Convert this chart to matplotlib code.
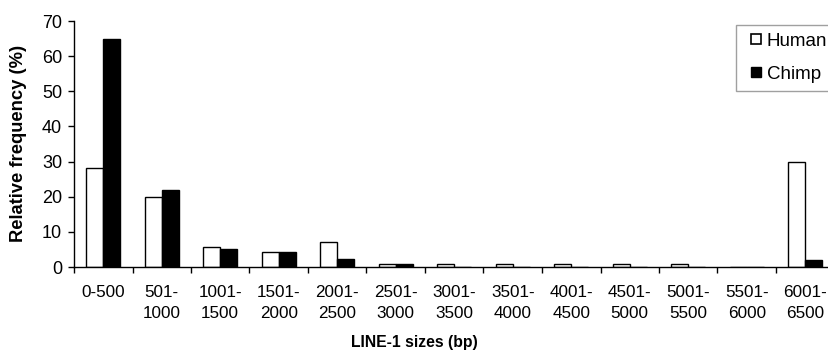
import matplotlib
matplotlib.use("Agg")
import matplotlib.pyplot as plt
from matplotlib.lines import Line2D
import numpy as np

categories = ["0-500", "501-\n1000", "1001-\n1500", "1501-\n2000", "2001-\n2500",
              "2501-\n3000", "3001-\n3500", "3501-\n4000", "4001-\n4500", "4501-\n5000",
              "5001-\n5500", "5501-\n6000", "6001-\n6500"]
human = [28.3, 20.0, 5.8, 4.2, 7.1, 0.8, 0.8, 0.8, 0.8, 0.8, 0.8, 0.0, 29.9]
chimp = [65.0, 22.0, 5.1, 4.2, 2.2, 0.8, 0.0, 0.0, 0.0, 0.0, 0.0, 0.0, 2.1]
yticks = [0, 10, 20, 30, 40, 50, 60, 70]

plt.rcParams['font.family'] = ['Liberation Sans', 'DejaVu Sans']

fig = plt.figure(figsize=(8.29, 3.62), dpi=100)
left = 74 / 829
right = 834.5 / 829
bottom = 1 - 267 / 362
top = 1 - 21 / 362
ax = fig.add_axes([left, bottom, right - left, top - bottom])

x = np.arange(len(categories))
w = 0.29
ax.bar(x - w / 2, human, width=w, color='white', edgecolor='black', linewidth=1.0, label='Human')
ax.bar(x + w / 2, chimp, width=w, color='black', edgecolor='black', linewidth=1.0, label='Chimp')

ax.set_xlim(-0.5, len(categories) - 0.5)
ax.set_ylim(0, 70)
ax.set_yticks(yticks)
ax.tick_params(axis='y', labelsize=13, length=4.5, width=1, pad=4)

ax.set_xticks(np.arange(len(categories) + 1) - 0.5)
ax.set_xticklabels([])
ax.tick_params(axis='x', length=4, width=1)
for i, c in enumerate(categories):
    ax.text(i, -0.072, c, transform=ax.get_xaxis_transform(), ha='center', va='top',
            fontsize=12.3, linespacing=1.55)

for s in ['top', 'right']:
    ax.spines[s].set_visible(False)
for s in ['left', 'bottom']:
    ax.spines[s].set_linewidth(1.0)

fig.text(19 / 829, 1 - 143 / 362, 'Relative frequency (%)', rotation=90, ha='center', va='center',
         fontsize=13.2, fontweight='bold')
fig.text(0.5, 1 - 343 / 362, 'LINE-1 sizes (bp)', ha='center', va='center',
         fontsize=11.3, fontweight='bold')

handles = [Line2D([], [], linestyle='none', marker='s', markersize=6.5, markerfacecolor='white',
                  markeredgecolor='black', markeredgewidth=1.2),
           Line2D([], [], linestyle='none', marker='s', markersize=7, markerfacecolor='black',
                  markeredgecolor='black', markeredgewidth=1.0)]
leg = ax.legend(handles, ['Human', 'Chimp'], loc='upper left', bbox_to_anchor=(736.5 / 829, 1 - 25 / 362),
                bbox_transform=fig.transFigure, fontsize=13.5, frameon=True, fancybox=False,
                handlelength=1.2, handletextpad=0.0, borderpad=0.42,
                labelspacing=0.84, borderaxespad=0)
leg.get_frame().set_edgecolor('#888888')
leg.get_frame().set_linewidth(1.0)

fig.savefig('out.png', dpi=100)
